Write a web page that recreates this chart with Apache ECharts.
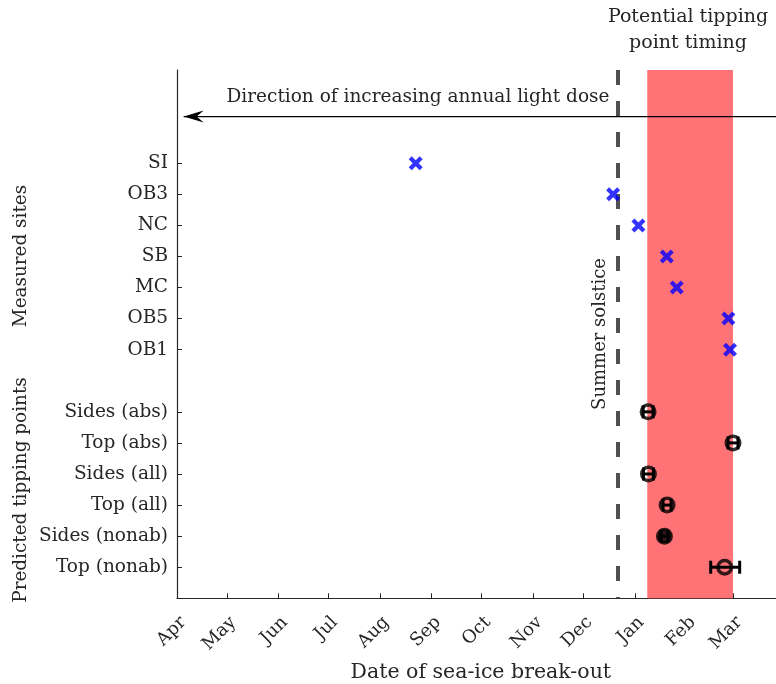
<!DOCTYPE html>
<html>
<head>
<meta charset="utf-8">
<script src="https://cdn.jsdelivr.net/npm/echarts@6/dist/echarts.min.js"></script>
<style>
  html, body { margin: 0; padding: 0; background: #fff; }
  #chart { width: 776px; height: 684px; }
</style>
</head>
<body>
<div id="chart"></div>
<script>
// Days are counted from 1 April.
const monthLabels = ['Apr', 'May', 'Jun', 'Jul', 'Aug', 'Sep', 'Oct', 'Nov', 'Dec', 'Jan', 'Feb', 'Mar'];
const monthStarts = [0, 30, 61, 91, 122, 153, 183, 214, 244, 275, 306, 334];

// Measured sites: observed break-out day
const siteNames = ['SI', 'OB3', 'NC', 'SB', 'MC', 'OB5', 'OB1'];
const siteRows = [3, 4, 5, 6, 7, 8, 9];
const siteBreakout = [143.4, 262, 277.2, 294.2, 300.2, 331.2, 332.2];

// Predicted tipping points: estimate with lower / upper bounds
const modelNames = ['Sides (abs)', 'Top (abs)', 'Sides (all)', 'Top (all)', 'Sides (nonab)', 'Top (nonab)'];
const modelRows = [11, 12, 13, 14, 15, 16];
const modelBreakout = [283, 334, 283.2, 294.4, 292.8, 329];
const modelLow = [280, 331, 280.2, 292, 290.8, 320.6];
const modelHigh = [286, 337, 286.2, 296.8, 294.8, 338];

const solsticeDay = 265;
const tippingWindow = [282.5, 334];
const arrowRow = 1.5;
const arrowFrom = 365;
const arrowTo = 4;

const FONT = 'DejaVu Serif';
const INK = '#262626';

const rowLabel = {};
siteRows.forEach((r, i) => { rowLabel[r] = siteNames[i]; });
modelRows.forEach((r, i) => { rowLabel[r] = modelNames[i]; });
const allRows = siteRows.concat(modelRows);

const xSymbol = 'path://M0,3 L3,0 L7,4 L11,0 L14,3 L10,7 L14,11 L11,14 L7,10 L3,14 L0,11 L4,7 Z';
const arrowHead = 'path://M0,6 L20,0 L13,6 L20,12 Z';

const chart = echarts.init(document.getElementById('chart'), null, { renderer: 'canvas' });

chart.setOption({
  animation: false,
  backgroundColor: '#fff',
  textStyle: { fontFamily: FONT, color: INK },
  grid: {
    left: 177, top: 70, width: 365 * 1.6647, height: 528.3,
    containLabel: false, outerBoundsMode: 'none'
  },
  xAxis: {
    type: 'value', min: 0, max: 365,
    name: 'Date of sea-ice break-out',
    nameLocation: 'middle', nameGap: 64,
    nameTextStyle: { fontFamily: FONT, fontSize: 20.5, color: INK },
    axisLine: { show: true, onZero: false, lineStyle: { color: INK, width: 1.2 } },
    axisTick: { show: true, inside: true, length: 5, customValues: monthStarts, lineStyle: { color: INK } },
    axisLabel: {
      customValues: monthStarts, rotate: 45, margin: 15,
      verticalAlign: 'top',
      fontFamily: FONT, fontSize: 18, color: INK,
      formatter: v => monthLabels[monthStarts.indexOf(v)]
    },
    splitLine: { show: false }
  },
  yAxis: {
    type: 'value', min: 0, max: 17, inverse: true,
    axisLine: { show: true, onZero: false, lineStyle: { color: INK, width: 1.2 } },
    axisTick: { show: true, inside: true, length: 5, customValues: allRows, lineStyle: { color: INK } },
    axisLabel: {
      customValues: allRows, margin: 9,
      fontFamily: FONT, fontSize: 18.5, color: INK,
      formatter: v => rowLabel[v] || ''
    },
    splitLine: { show: false }
  },
  series: [
    {
      // tipping window band and solstice marker
      type: 'line', data: [], z: 1,
      markArea: {
        silent: true,
        itemStyle: { color: '#ff7377', opacity: 1 },
        data: [[{ xAxis: tippingWindow[0] }, { xAxis: tippingWindow[1] }]]
      },
      markLine: {
        silent: true, symbol: 'none', label: { show: false },
        lineStyle: { color: '#505050', width: 4, type: [15, 16] },
        data: [{ xAxis: solsticeDay }]
      }
    },
    {
      // light dose direction arrow
      type: 'line', z: 3, showSymbol: true,
      lineStyle: { color: '#000', width: 1.2 },
      itemStyle: { color: '#000' },
      data: [
        { value: [arrowFrom, arrowRow], symbol: 'none' },
        { value: [arrowTo, arrowRow], symbol: arrowHead, symbolSize: [20, 12], symbolOffset: [10, 0] }
      ]
    },
    {
      type: 'scatter', z: 5,
      symbol: xSymbol, symbolSize: 14,
      itemStyle: { color: '#0000ff' },
      data: siteBreakout.map((d, i) => [d, siteRows[i]])
    },
    {
      type: 'custom', z: 6,
      renderItem: function (params, api) {
        const lo = api.coord([api.value(0), api.value(2)]);
        const hi = api.coord([api.value(1), api.value(2)]);
        const cap = 6.5;
        const style = { stroke: '#000', lineWidth: 3 };
        return {
          type: 'group',
          children: [
            { type: 'line', shape: { x1: lo[0], y1: lo[1], x2: hi[0], y2: hi[1] }, style: style },
            { type: 'line', shape: { x1: lo[0], y1: lo[1] - cap, x2: lo[0], y2: lo[1] + cap }, style: style },
            { type: 'line', shape: { x1: hi[0], y1: hi[1] - cap, x2: hi[0], y2: hi[1] + cap }, style: style }
          ]
        };
      },
      data: modelLow.map((d, i) => [d, modelHigh[i], modelRows[i]])
    },
    {
      type: 'scatter', z: 7,
      symbol: 'circle', symbolSize: 13.5,
      itemStyle: { color: 'rgba(0,0,0,0)', borderColor: '#000', borderWidth: 3.5 },
      data: modelBreakout.map((d, i) => {
        const item = { value: [d, modelRows[i]] };
        if (modelNames[i] === 'Sides (nonab)') item.itemStyle = { color: '#000' };
        return item;
      })
    }
  ],
  graphic: [
    {
      type: 'text', x: 688, y: 17,
      style: { text: 'Potential tipping', fontFamily: FONT, fontSize: 19, fill: INK, align: 'center', verticalAlign: 'middle' }
    },
    {
      type: 'text', x: 688, y: 43,
      style: { text: 'point timing', fontFamily: FONT, fontSize: 19, fill: INK, align: 'center', verticalAlign: 'middle' }
    },
    {
      type: 'text', x: 418, y: 97,
      style: { text: 'Direction of increasing annual light dose', fontFamily: FONT, fontSize: 18.5, fill: INK, align: 'center', verticalAlign: 'middle' }
    },
    {
      type: 'text', x: 600, y: 334, rotation: Math.PI / 2,
      style: { text: 'Summer solstice', fontFamily: FONT, fontSize: 18, fill: INK, align: 'center', verticalAlign: 'middle' }
    },
    {
      type: 'text', x: 21, y: 256, rotation: Math.PI / 2,
      style: { text: 'Measured sites', fontFamily: FONT, fontSize: 18.4, fill: INK, align: 'center', verticalAlign: 'middle' }
    },
    {
      type: 'text', x: 21, y: 490, rotation: Math.PI / 2,
      style: { text: 'Predicted tipping points', fontFamily: FONT, fontSize: 18.4, fill: INK, align: 'center', verticalAlign: 'middle' }
    }
  ]
});
</script>
</body>
</html>
